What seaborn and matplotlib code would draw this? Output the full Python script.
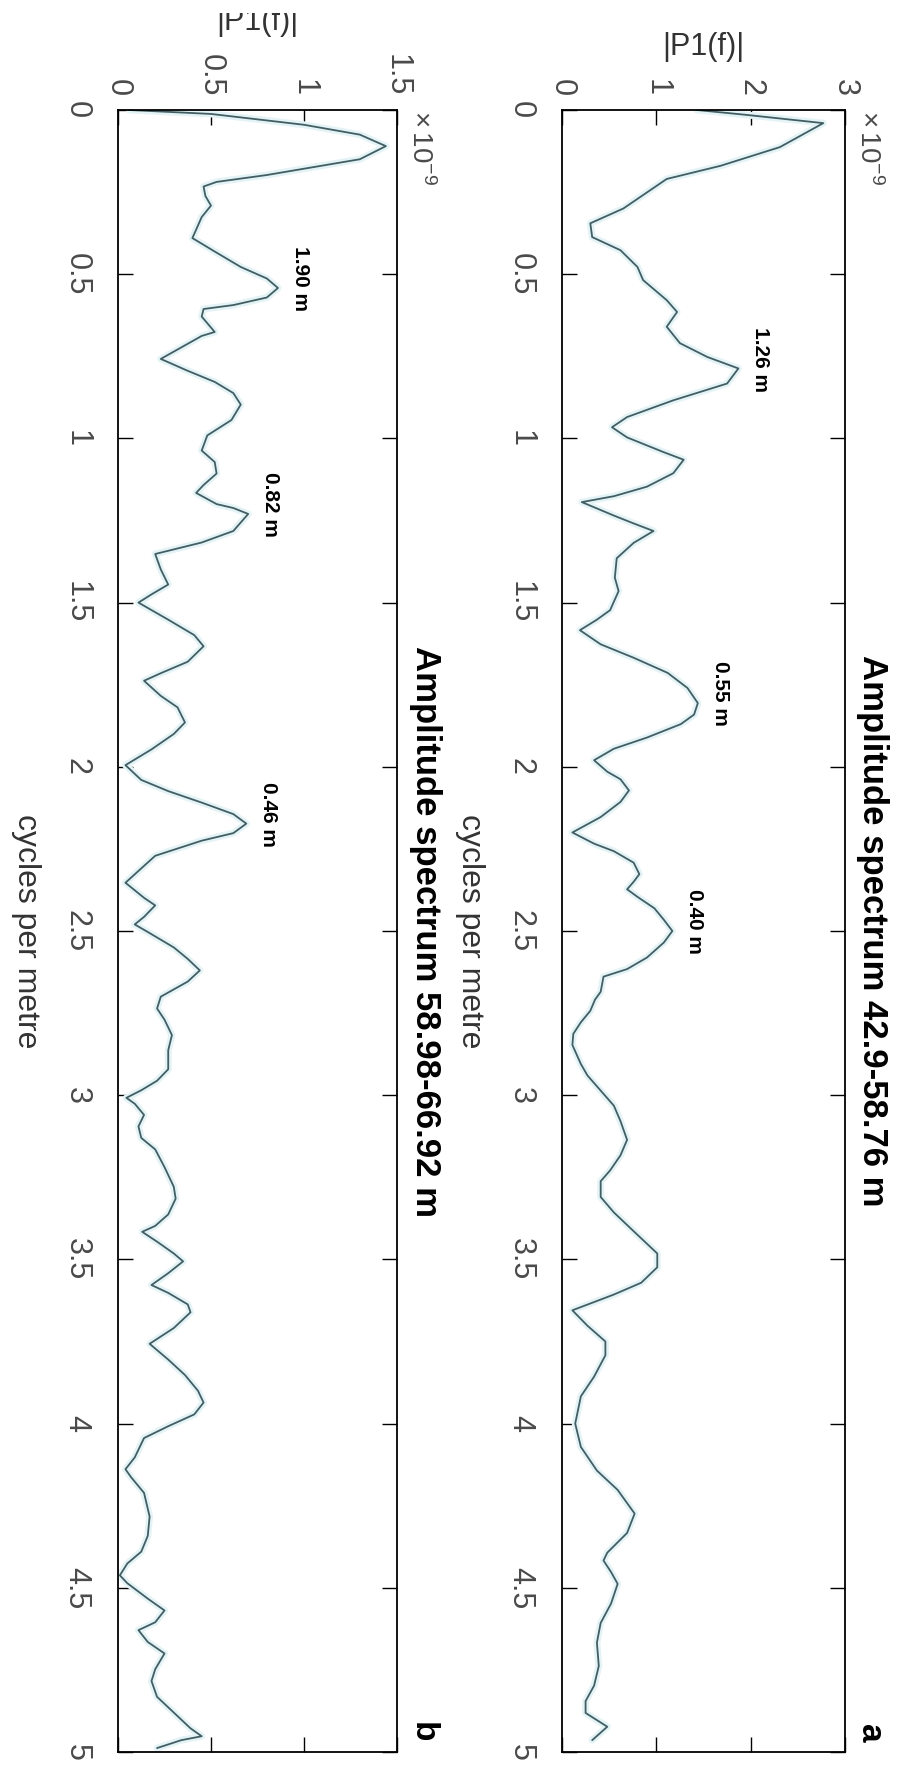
import numpy as np
import pandas as pd
import seaborn as sns
import matplotlib
matplotlib.use("Agg")
import matplotlib.pyplot as plt
from matplotlib.transforms import Bbox, TransformedBbox

# spectrum a: cycles per metre / |P1(f)| in units of 1e-9
freq_a = [0.00, 0.015, 0.04, 0.113, 0.17, 0.21, 0.30, 0.345, 0.387, 0.427, 0.478, 0.518,
          0.579, 0.615, 0.66, 0.71, 0.752, 0.787, 0.833, 0.884, 0.935, 0.966, 0.997,
          1.041, 1.065, 1.106, 1.147, 1.176, 1.194, 1.235, 1.259, 1.282, 1.318,
          1.365, 1.424, 1.465, 1.523, 1.552, 1.584, 1.627, 1.668, 1.714, 1.76, 1.806, 1.841,
          1.87, 1.911, 1.945, 1.98, 2.015, 2.038, 2.072, 2.107, 2.153, 2.2, 2.234, 2.257,
          2.292, 2.327, 2.35, 2.373, 2.396, 2.431, 2.466, 2.5, 2.535, 2.581, 2.616, 2.639,
          2.685, 2.709, 2.743, 2.778, 2.813, 2.847, 2.905, 2.94, 2.986, 3.032, 3.079, 3.136,
          3.183, 3.229, 3.262, 3.31, 3.357, 3.417, 3.482, 3.524, 3.571, 3.607, 3.655, 3.702,
          3.75, 3.792, 3.857, 3.917, 4.0, 4.071, 4.143, 4.202, 4.274, 4.333, 4.393, 4.417,
          4.452, 4.488, 4.548, 4.607, 4.667, 4.738, 4.798, 4.845, 4.881, 4.923, 4.964]
amp_a = [1.43, 1.96, 2.77, 2.31, 1.68, 1.11, 0.65, 0.30, 0.32, 0.62, 0.80, 0.86,
         1.11, 1.22, 1.11, 1.25, 1.54, 1.87, 1.75, 1.18, 0.69, 0.53, 0.69,
         1.07, 1.29, 1.18, 0.90, 0.55, 0.21, 0.55, 0.76, 0.97, 0.76,
         0.58, 0.56, 0.60, 0.51, 0.37, 0.19, 0.41, 0.76, 1.12, 1.33, 1.44, 1.40,
         1.26, 0.90, 0.55, 0.34, 0.48, 0.62, 0.71, 0.62, 0.41, 0.11, 0.34, 0.55,
         0.76, 0.82, 0.76, 0.69, 0.80, 0.98, 1.08, 1.17, 1.08, 0.90, 0.69, 0.44,
         0.41, 0.35, 0.30, 0.20, 0.12, 0.11, 0.20, 0.27, 0.41, 0.55, 0.62, 0.69,
         0.62, 0.51, 0.41, 0.41, 0.55, 0.77, 1.01, 1.01, 0.84, 0.55, 0.11, 0.27,
         0.46, 0.46, 0.34, 0.20, 0.14, 0.20, 0.37, 0.59, 0.77, 0.69, 0.48, 0.44,
         0.52, 0.59, 0.52, 0.41, 0.37, 0.39, 0.34, 0.25, 0.25, 0.48, 0.32]

# spectrum b
freq_b = [0.0, 0.012, 0.045, 0.075, 0.11, 0.15, 0.198, 0.219, 0.233, 0.262, 0.291, 0.326,
          0.39, 0.431, 0.478,
          0.513, 0.542, 0.571, 0.594, 0.606, 0.629, 0.676, 0.688, 0.758, 0.793, 0.828, 0.862,
          0.897, 0.944, 0.991, 1.037, 1.072, 1.107, 1.142, 1.166, 1.2, 1.212, 1.23, 1.282,
          1.317, 1.352, 1.399, 1.445, 1.475, 1.5, 1.552, 1.599, 1.633, 1.68, 1.715, 1.738,
          1.784, 1.819, 1.865, 1.9, 1.947, 1.995, 2.04, 2.074, 2.109, 2.144, 2.173, 2.202,
          2.225, 2.271, 2.353, 2.399, 2.422, 2.457, 2.48, 2.503, 2.55, 2.585, 2.62, 2.654,
          2.7, 2.736, 2.77, 2.817, 2.863, 2.921, 2.956, 2.985, 3.008, 3.026, 3.06, 3.095,
          3.13, 3.165, 3.219, 3.279, 3.315, 3.363, 3.398, 3.416, 3.446, 3.482, 3.506, 3.542,
          3.578, 3.602, 3.637, 3.661, 3.709, 3.757, 3.805, 3.852, 3.9, 3.936, 3.972, 4.008,
          4.044, 4.079, 4.103, 4.139, 4.163, 4.211, 4.283, 4.342, 4.39, 4.426, 4.462, 4.486,
          4.533, 4.569, 4.605, 4.629, 4.665, 4.7, 4.748, 4.784, 4.832, 4.88, 4.928, 4.952,
          4.964, 4.988]
amp_b = [0.06, 0.50, 1.00, 1.30, 1.44, 1.30, 0.80, 0.53, 0.46, 0.47, 0.50, 0.45,
         0.40, 0.52, 0.66,
         0.80, 0.86, 0.80, 0.62, 0.46, 0.45, 0.52, 0.45, 0.23, 0.37, 0.52, 0.62,
         0.66, 0.61, 0.48, 0.45, 0.52, 0.53, 0.46, 0.42, 0.53, 0.62, 0.70, 0.62,
         0.45, 0.20, 0.23, 0.27, 0.18, 0.11, 0.27, 0.41, 0.46, 0.375, 0.23, 0.14,
         0.23, 0.32, 0.36, 0.30, 0.18, 0.04, 0.125, 0.27, 0.45, 0.62, 0.69, 0.62,
         0.45, 0.20, 0.04, 0.14, 0.20, 0.14, 0.09, 0.16, 0.30, 0.375, 0.44, 0.375,
         0.23, 0.21, 0.25, 0.29, 0.27, 0.27, 0.21, 0.125, 0.045, 0.09, 0.14, 0.11,
         0.125, 0.20, 0.25, 0.30, 0.31, 0.27, 0.20, 0.13, 0.21, 0.30, 0.35, 0.27,
         0.18, 0.27, 0.375, 0.39, 0.30, 0.17, 0.27, 0.36, 0.43, 0.46, 0.41, 0.27,
         0.14, 0.11, 0.09, 0.04, 0.07, 0.14, 0.17, 0.16, 0.125, 0.05, 0.01, 0.05,
         0.16, 0.25, 0.20, 0.11, 0.16, 0.25, 0.20, 0.18, 0.21, 0.30, 0.39, 0.45,
         0.34, 0.21]

# wavelengths (m) of the labelled peaks
peaks_a = [1.26, 0.55, 0.40]
peaks_b = [1.90, 0.82, 0.46]

titles = ["Amplitude spectrum 42.9-58.76 m", "Amplitude spectrum 58.98-66.92 m"]
letters = ["a", "b"]
amp_ticks_a = [0, 1, 2, 3]
amp_labels_a = ["0", "1", "2", "3"]
amp_ticks_b = [0, 0.5, 1, 1.5]
amp_labels_b = ["0", "0.5", "1", "1.5"]
freq_ticks = [0, 0.5, 1, 1.5, 2, 2.5, 3, 3.5, 4, 4.5, 5]
freq_labels = ["0", "0.5", "1", "1.5", "2", "2.5", "3", "3.5", "4", "4.5", "5"]

sns.set_theme(style="white")
plt.rcParams["font.family"] = ["Liberation Sans", "DejaVu Sans"]
plt.rcParams["mathtext.fontset"] = "custom"
plt.rcParams["mathtext.rm"] = "Liberation Sans"

W, H = 899, 1769
fig = plt.figure(figsize=(W / 100, H / 100), dpi=100)
fig.patch.set_facecolor("white")

line_col = "#435e63"
tick_col = "#4a4a4a"

panels = [
    dict(freq=freq_a, amp=amp_a, peaks=peaks_a, ticks=amp_ticks_a, labels=amp_labels_a,
         xmax=3, left=562, width=283, title=titles[0], letter=letters[0], ylab=47),
    dict(freq=freq_b, amp=amp_b, peaks=peaks_b, ticks=amp_ticks_b, labels=amp_labels_b,
         xmax=1.5, left=118, width=279, title=titles[1], letter=letters[1], ylab=22),
]

# the scan is cut off a little at the top edge
keep = TransformedBbox(Bbox([[0, 0], [1, (H - 13) / H]]), fig.transFigure)

top_px, bot_px = 110, 1752
for p in panels:
    ax = fig.add_axes([p["left"] / W, (H - bot_px) / H, p["width"] / W, (bot_px - top_px) / H])
    df = pd.DataFrame({"f": p["freq"], "P1": p["amp"]})
    # faint halo like the original scan, then the spectrum
    sns.lineplot(data=df, x="P1", y="f", orient="y", sort=False, estimator=None,
                 ax=ax, color="#e3f3f6", linewidth=5)
    sns.lineplot(data=df, x="P1", y="f", orient="y", sort=False, estimator=None,
                 ax=ax, color=line_col, linewidth=1.3)

    ax.set_xlim(0, p["xmax"])
    ax.set_ylim(5, 0)
    ax.xaxis.tick_top()
    ax.set_xticks(p["ticks"])
    ax.set_xticklabels(p["labels"], rotation=-90)
    ax.set_yticks(freq_ticks)
    ax.set_yticklabels(freq_labels, rotation=-90, va="center")
    ax.tick_params(axis="both", direction="in", length=11, width=1, labelsize=22,
                   labelcolor=tick_col, color="black",
                   top=True, bottom=True, left=True, right=True,
                   labeltop=True, labelbottom=False)
    ax.tick_params(axis="y", pad=19)
    ax.tick_params(axis="x", pad=10)
    ax.set_xlabel("")
    ax.set_ylabel("")
    for s in ax.spines.values():
        s.set_visible(True)
        s.set_color("black")
        s.set_linewidth(1.3)

    w = p["width"]
    ax.text(1 + 9 / w, 1.0, r"$\times\,10^{-9}$", transform=ax.transAxes, rotation=-90,
            ha="left", va="top", fontsize=20, color=tick_col)
    ax.text(-92 / w, 0.5, "cycles per metre", transform=ax.transAxes, rotation=-90,
            ha="center", va="center", fontsize=23, color="#333333")
    ax.text(1 + 28 / w, 0.5, p["title"], transform=ax.transAxes, rotation=-90,
            ha="center", va="center", fontsize=25, fontweight="bold", color="black")
    ax.text(1 + 25 / w, 0.006, p["letter"], transform=ax.transAxes, rotation=-90,
            ha="center", va="bottom", fontsize=24, fontweight="bold", color="black")

    f_arr = np.array(p["freq"])
    a_arr = np.array(p["amp"])
    for lam in p["peaks"]:
        f0 = 1 / lam
        near = np.abs(f_arr - f0) < 0.06
        k = np.argmax(np.where(near, a_arr, -1))
        ax.annotate(f"{lam:.2f} m", xy=(a_arr[k], f_arr[k]), xytext=(16, 30),
                    textcoords="offset points", rotation=-90, ha="center", va="top",
                    fontsize=15, fontweight="bold", color="black")

    cx = (p["left"] + w / 2) / W
    lab = fig.text(cx, 1 - p["ylab"] / H, "|P1(f)|", ha="center", va="center",
                   fontsize=22, color="#333333")
    lab.set_clip_box(keep)
    lab.set_clip_on(True)

fig.savefig("out.png", dpi=100, facecolor="white")
